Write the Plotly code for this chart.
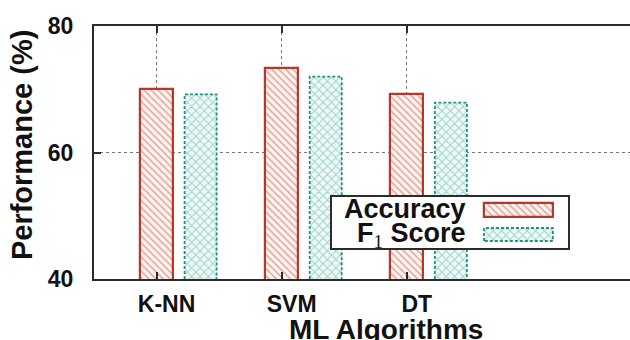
import plotly.graph_objects as go

# ---- data ----
categories = ["K-NN", "SVM", "DT"]
accuracy = [70.1, 73.3, 69.2]
f1_score = [69.2, 72.0, 67.9]
y_ticks = [40, 60, 80]
series_names = ["Accuracy", "F<sub>1</sub> Score"]

# ---- styling ----
FONT = "Liberation Sans, Arial, sans-serif"
RED = "#b5392a"
RED_PAT = "#c65a4a"
RED_BG = "#fdf3f0"
TEAL = "#238f82"
TEAL_PAT = "#49ad9f"
TEAL_BG = "#f0f9f7"
AXC = "#2b2b2b"

xs = list(range(len(categories)))
ACC_W, ACC_OFF = 0.264, -0.132
F1_W, F1_OFF = 0.256, 0.224

acc_pattern = dict(shape="\\", fgcolor=RED_PAT, bgcolor=RED_BG, size=5, solidity=0.32)
f1_pattern = dict(shape="x", fgcolor=TEAL_PAT, bgcolor=TEAL_BG, size=6, solidity=0.3)

fig = go.Figure()

fig.add_trace(go.Bar(
    x=xs, y=accuracy, width=ACC_W, offset=ACC_OFF,
    marker=dict(color=RED_BG, pattern=acc_pattern, line=dict(color=RED, width=2.2)),
    showlegend=False, xaxis="x", yaxis="y"))

fig.add_trace(go.Bar(
    x=xs, y=f1_score, width=F1_W, offset=F1_OFF,
    marker=dict(color=TEAL_BG, pattern=f1_pattern, line=dict(width=0)),
    showlegend=False, xaxis="x", yaxis="y"))

# dashed outline of F1 bars
ox, oy = [], []
for i, v in zip(xs, f1_score):
    x0, x1 = i + F1_OFF, i + F1_OFF + F1_W
    ox += [x0, x0, x1, x1, None]
    oy += [y_ticks[0], v, v, y_ticks[0], None]
fig.add_trace(go.Scatter(x=ox, y=oy, mode="lines",
                         line=dict(color=TEAL, width=1.8, dash="3px,2px"),
                         showlegend=False, hoverinfo="skip", xaxis="x", yaxis="y",
                         cliponaxis=False))

# ---- custom legend (gnuplot style: text then sample) ----
fig.add_trace(go.Bar(y=[0.5], x=[1], base=[0], width=[1], orientation="h",
                     marker=dict(color="white", line=dict(width=0)),
                     showlegend=False, hoverinfo="skip", xaxis="x2", yaxis="y2"))
fig.add_trace(go.Bar(
    y=[0.745], x=[0.292], base=[0.644], width=[0.27], orientation="h",
    marker=dict(color=RED_BG, pattern=acc_pattern, line=dict(color=RED, width=2.2)),
    showlegend=False, hoverinfo="skip", xaxis="x2", yaxis="y2"))
fig.add_trace(go.Bar(
    y=[0.265], x=[0.292], base=[0.644], width=[0.255], orientation="h",
    marker=dict(color=TEAL_BG, pattern=f1_pattern, line=dict(width=0)),
    showlegend=False, hoverinfo="skip", xaxis="x2", yaxis="y2"))
fig.add_trace(go.Scatter(
    x=[0.644, 0.644, 0.936, 0.936, 0.644],
    y=[0.1375, 0.3925, 0.3925, 0.1375, 0.1375], mode="lines",
    line=dict(color=TEAL, width=1.8, dash="3px,2px"),
    showlegend=False, hoverinfo="skip", xaxis="x2", yaxis="y2", cliponaxis=False))

annotations = [
    dict(text=series_names[0], x=0.575, y=0.77, xref="x2", yref="y2",
         xanchor="right", yanchor="middle", showarrow=False,
         font=dict(family=FONT, size=27, color="#111", weight="bold")),
    dict(text="F<sub><span style='font-family:Liberation Serif;font-weight:normal'>1</span></sub> Score",
         x=0.575, y=0.25, xref="x2", yref="y2",
         xanchor="right", yanchor="middle", showarrow=False,
         font=dict(family=FONT, size=27, color="#111", weight="bold")),
    dict(text="Performance (%)", x=-0.134, y=0.53, xref="paper", yref="paper",
         xanchor="center", yanchor="middle", textangle=-90, showarrow=False,
         font=dict(family=FONT, size=29, color="#111", weight="bold")),
    dict(text="ML Algorithms", x=(385.5 - 94) / 536, y=-0.2, xref="paper", yref="paper",
         xanchor="center", yanchor="middle", showarrow=False,
         font=dict(family=FONT, size=28, color="#111", weight="bold")),
]

fig.update_layout(
    width=630, height=340,
    margin=dict(l=94, r=0, t=26, b=61, autoexpand=False),
    paper_bgcolor="white", plot_bgcolor="white",
    barmode="overlay", bargap=0,
    font=dict(family=FONT, color="#111"),
    annotations=annotations,
    xaxis=dict(domain=[0, 1], range=[-0.5, 3.784], tickmode="array",
               tickvals=xs, ticktext=categories,
               tickfont=dict(family=FONT, size=23, color="#111", weight="bold"),
               ticks="inside", ticklen=7, tickwidth=1.5, tickcolor=AXC,
               showline=True, linecolor=AXC, linewidth=2, mirror="ticks",
               showgrid=True, gridcolor="#777", gridwidth=1, griddash="dot",
               zeroline=False, ticklabelstandoff=3, ticklabelshift=10,
               automargin=False, fixedrange=True),
    yaxis=dict(domain=[0, 1], range=[40, 80], tickmode="array", tickvals=y_ticks,
               tickfont=dict(family=FONT, size=23, color="#111", weight="bold"),
               ticks="inside", ticklen=7, tickwidth=1.5, tickcolor=AXC,
               showline=True, linecolor=AXC, linewidth=2, mirror=False,
               showgrid=True, gridcolor="#777", gridwidth=1, griddash="dot",
               zeroline=False, ticklabelstandoff=14, automargin=False,
               fixedrange=True),
    xaxis2=dict(domain=[0.444, 0.8843], range=[0, 1], anchor="y2",
                showline=True, mirror=True, linecolor=AXC, linewidth=1.5,
                showgrid=False, zeroline=False, showticklabels=False, ticks="",
                fixedrange=True),
    yaxis2=dict(domain=[0.1225, 0.3241], range=[0, 1], anchor="x2",
                showline=True, mirror=True, linecolor=AXC, linewidth=1.5,
                showgrid=False, zeroline=False, showticklabels=False, ticks="",
                fixedrange=True),
)

fig.write_html("out.html",
               config={"displayModeBar": False},
               post_script="document.body.style.margin='0';document.body.style.overflow='hidden';")
